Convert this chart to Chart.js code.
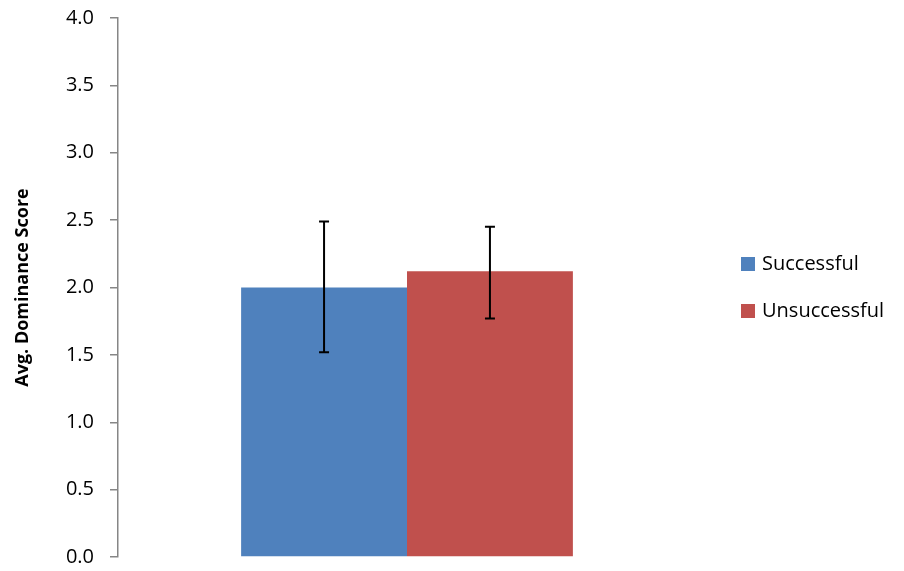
<!DOCTYPE html>
<html><head><meta charset="utf-8">
<script src="https://cdn.jsdelivr.net/npm/chart.js@4"></script>
<style>html,body{margin:0;background:#fff}#w{width:904px;height:571px}</style>
</head><body><div id="w"><canvas id="c"></canvas></div>
<script>
const categories = [''];
const seriesNames = ['Successful', 'Unsuccessful'];
const means = [2.00, 2.12];
const errLow = [1.52, 1.77];
const errHigh = [2.49, 2.45];
const colors = ['#4f81bd', '#c0504d'];
const yTicks = [0, 0.5, 1, 1.5, 2, 2.5, 3, 3.5, 4];

const errPlugin = {
  id: 'err',
  afterDatasetsDraw(chart) {
    const ctx = chart.ctx, y = chart.scales.y;
    chart.data.datasets.forEach((ds, i) => {
      const bar = chart.getDatasetMeta(i).data[0];
      const x = bar.x, y1 = y.getPixelForValue(errLow[i]), y2 = y.getPixelForValue(errHigh[i]);
      ctx.save(); ctx.strokeStyle = '#000'; ctx.lineWidth = 2;
      ctx.beginPath();
      ctx.moveTo(x, y1); ctx.lineTo(x, y2);
      ctx.moveTo(x - 5, y1); ctx.lineTo(x + 5, y1);
      ctx.moveTo(x - 5, y2); ctx.lineTo(x + 5, y2);
      ctx.stroke(); ctx.restore();
    });
  }
};
const legendPlugin = {
  id: 'leg',
  afterDraw(chart) {
    const ctx = chart.ctx;
    ctx.save();
    ctx.font = '20px "Open Sans", sans-serif';
    ctx.textBaseline = 'middle';
    seriesNames.forEach((n, i) => {
      const cy = 264 + i * 47;
      ctx.fillStyle = colors[i];
      ctx.fillRect(741, cy - 7, 14, 14);
      ctx.fillStyle = '#000';
      ctx.fillText(n, 762, cy);
    });
    ctx.restore();
  }
};
new Chart(document.getElementById('c'), {
  type: 'bar',
  data: {
    labels: categories,
    datasets: seriesNames.map((n, i) => ({ label: n, data: [means[i]], backgroundColor: colors[i] }))
  },
  options: {
    responsive: true, maintainAspectRatio: false, animation: false,
    layout: { padding: { left: 8, right: 208, top: 18, bottom: 14 } },
    categoryPercentage: 0.574, barPercentage: 1,
    plugins: { legend: { display: false }, tooltip: { enabled: false } },
    scales: {
      x: { display: false },
      y: {
        min: 0, max: 4,
        afterFit(s) { s.width = 110; s.paddingTop = 0; s.paddingBottom = 0; },
        afterBuildTicks(s) { s.ticks = yTicks.map(v => ({ value: v })); },
        border: { color: '#868686', width: 1.5 },
        grid: { drawOnChartArea: false, tickLength: 8, color: '#868686', lineWidth: 1.5 },
        ticks: { color: '#000', font: { size: 20, family: '"Open Sans", sans-serif' }, padding: 16,
                 callback: v => v.toFixed(1) },
        title: { display: true, text: 'Avg. Dominance Score', color: '#000',
                 font: { size: 18, weight: 'bold', family: '"Open Sans", sans-serif' } }
      }
    }
  },
  plugins: [errPlugin, legendPlugin]
});
</script></body></html>
